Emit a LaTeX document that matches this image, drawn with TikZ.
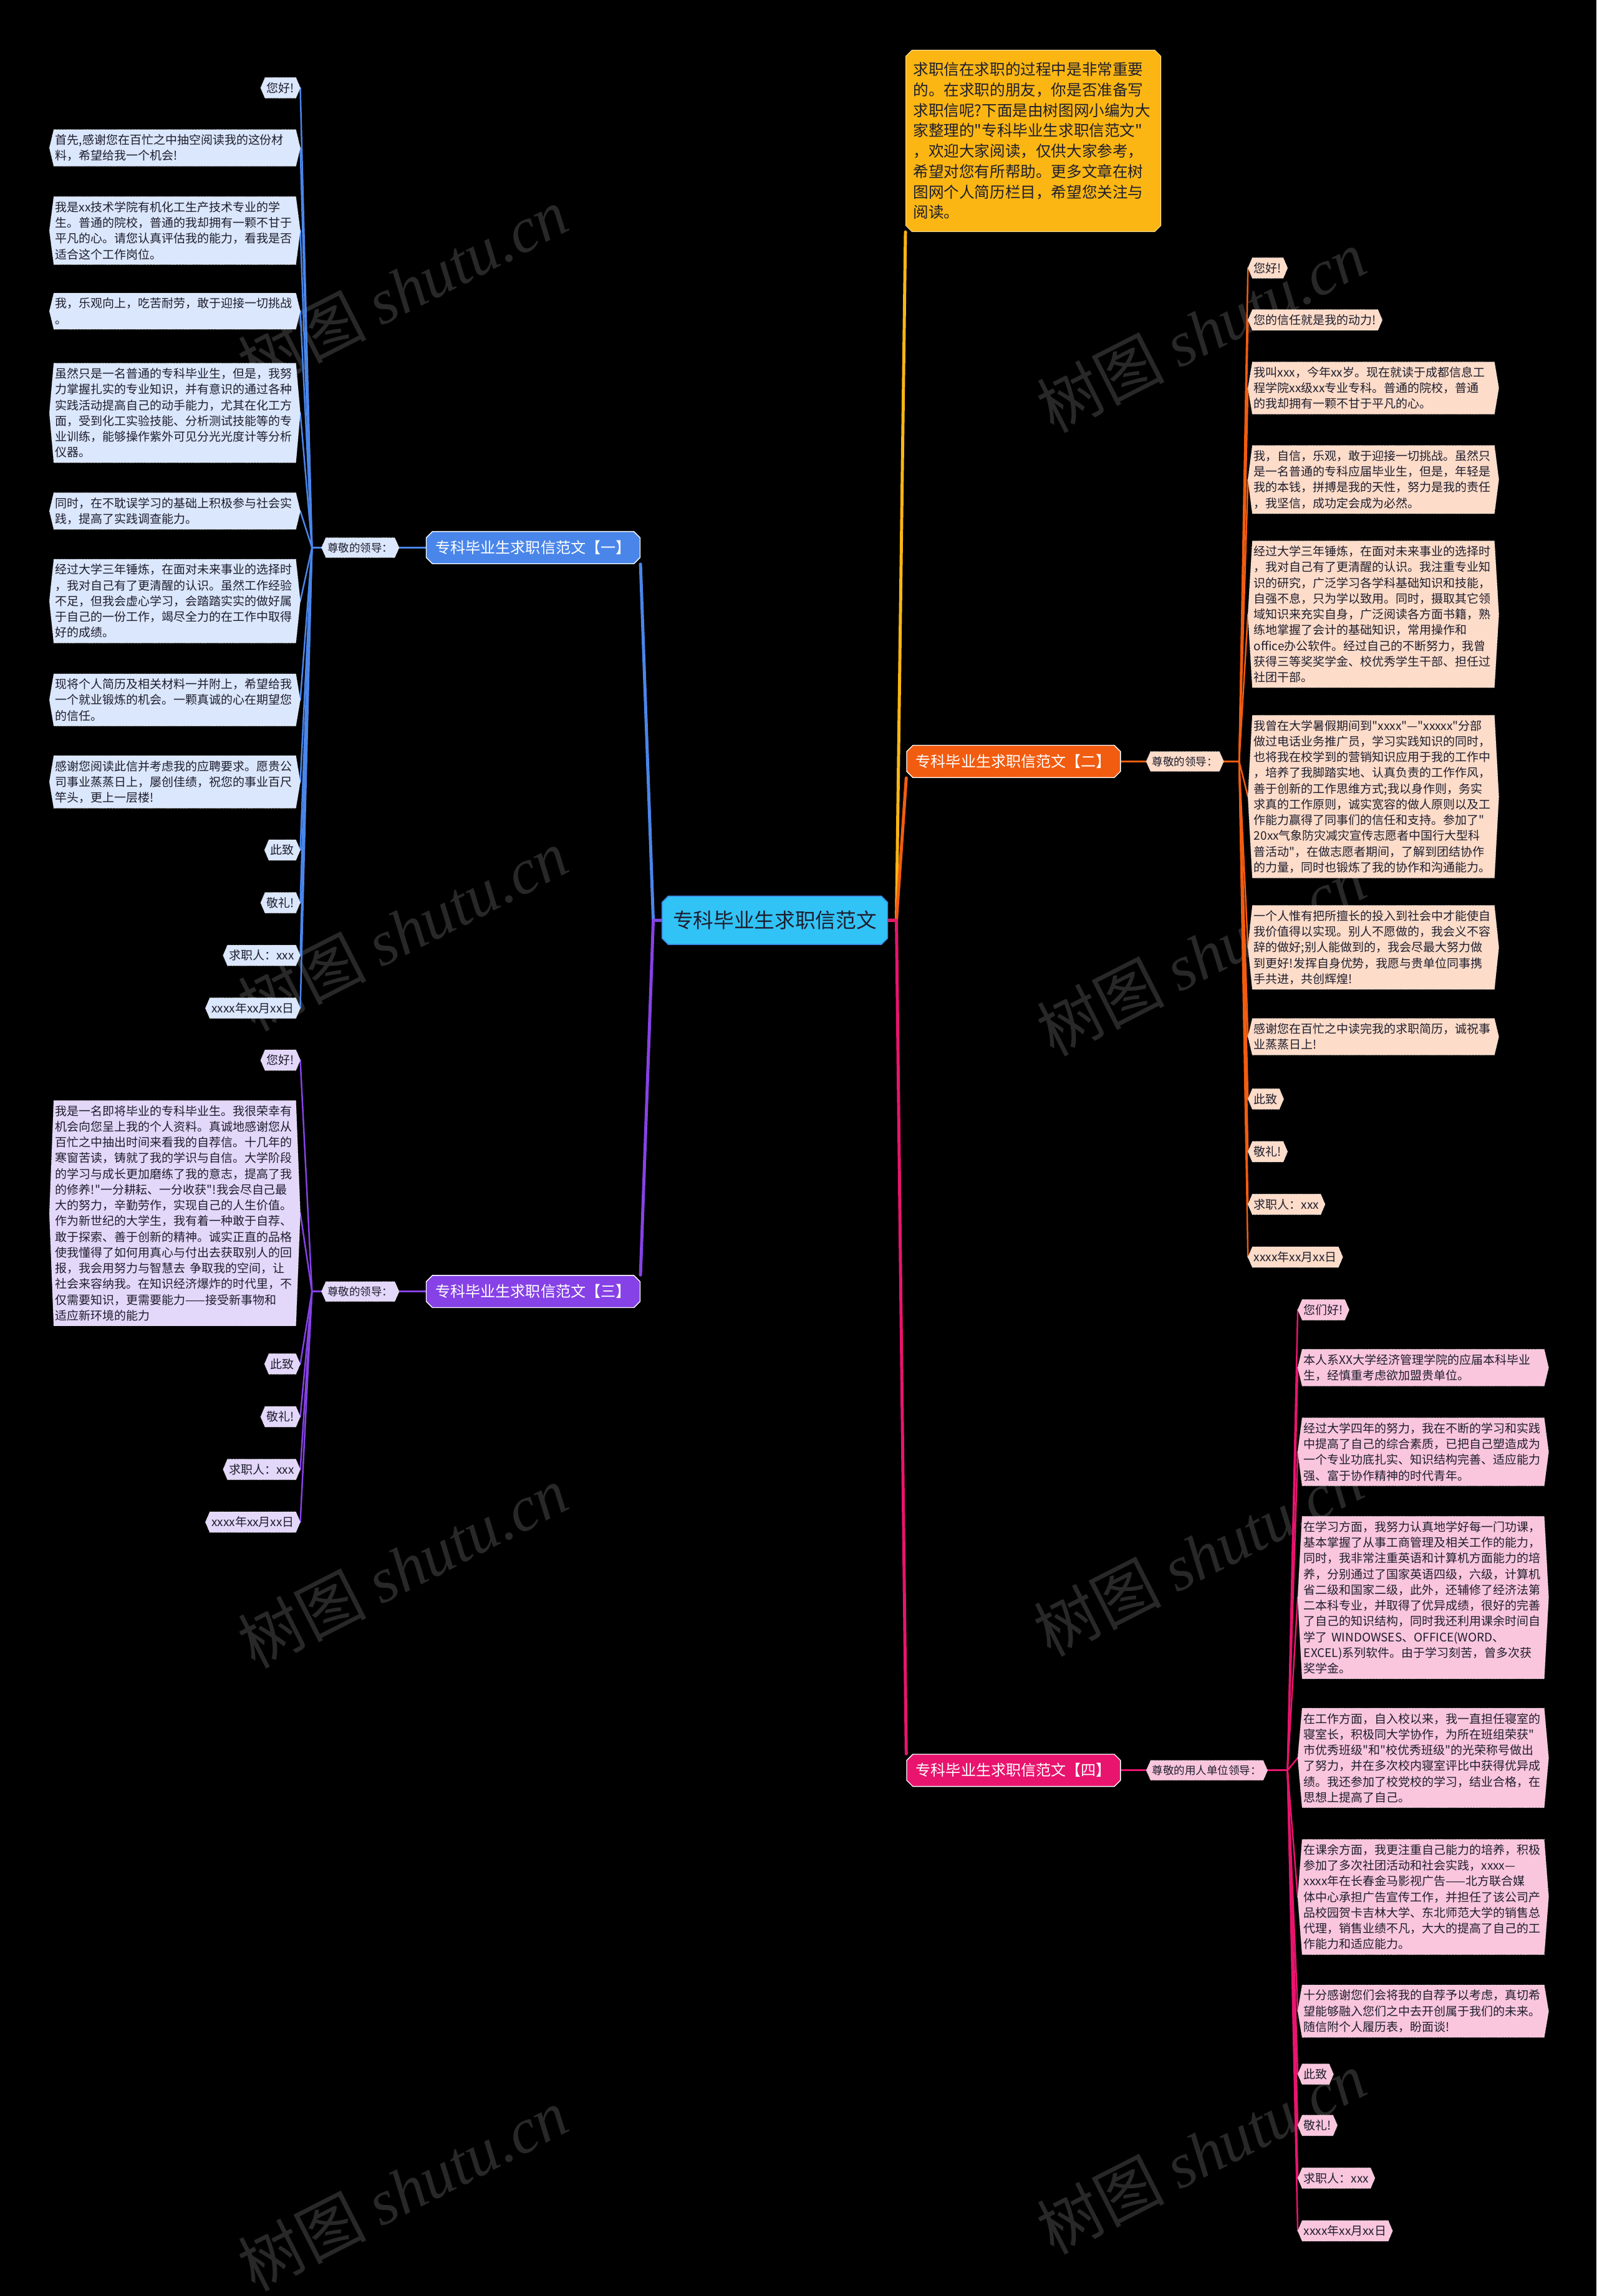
\documentclass[tikz,border=0pt]{standalone}
\usepackage{fontspec}
\setmainfont{Noto Sans CJK SC}[Ligatures=TeXOff]
\newfontfamily\wmlatin{Liberation Serif}
\usetikzlibrary{shapes.misc,backgrounds}

\definecolor{rootfill}{HTML}{31C3F6}
\definecolor{rootline}{HTML}{3A86E4}
\definecolor{introfill}{HTML}{FBB613}
\definecolor{bluemain}{HTML}{4A86EA}
\definecolor{bluelite}{HTML}{DBE7FC}
\definecolor{orangemain}{HTML}{F25C10}
\definecolor{orangelite}{HTML}{FDDCC9}
\definecolor{purplemain}{HTML}{8642E6}
\definecolor{purplelite}{HTML}{E4D8FA}
\definecolor{pinkmain}{HTML}{E9146E}
\definecolor{pinklite}{HTML}{FAC6DD}
\definecolor{leaftext}{HTML}{1E1E2E}
\definecolor{wmgray}{HTML}{282828}

\newcommand\hexbox[2]{%
  \filldraw[fill=#2,draw=white,densely dotted,line width=0.5pt]
    (#1.west) -- ([xshift=0.15cm]#1.north west) -- ([xshift=-0.15cm]#1.north east)
    -- (#1.east) -- ([xshift=-0.15cm]#1.south east) -- ([xshift=0.15cm]#1.south west) -- cycle}

\begin{document}
\begin{tikzpicture}[x=0.05cm,y=-0.05cm,
  leaf/.style={text=leaftext,align=left,inner xsep=0.2cm,inner ysep=4.5pt,
    font=\fontsize{11.5}{15.3}\selectfont},
  leafwide/.style={leaf,text width=8.15cm},
  greet/.style={leaf,font=\fontsize{10.6}{13}\selectfont},
  branch/.style={chamfered rectangle,chamfered rectangle xsep=3pt,chamfered rectangle ysep=3pt,
    draw=white,line width=0.8pt,text=white,minimum width=7.3cm,minimum height=1.1cm,
    inner xsep=2pt,font=\fontsize{14.6}{16}\selectfont},
  trunk/.style={line width=3pt,line join=round,line cap=round},
  twig/.style={line width=2pt,line cap=round},
  link/.style={line width=1.5pt,line cap=round},
  wmark/.style={text=wmgray,rotate=27,font=\fontsize{62}{62}\selectfont}]
\useasboundingbox (0,0) rectangle (1090,1568);

\node[chamfered rectangle,chamfered rectangle xsep=3pt,chamfered rectangle ysep=3pt,fill=rootfill,draw=rootline,line width=1pt,text=leaftext,minimum width=7.7cm,minimum height=1.65cm,inner xsep=3pt,font=\fontsize{19.8}{22}\selectfont] (root) at (529,628.5) {专科毕业生求职信范文};

\node[chamfered rectangle,chamfered rectangle xsep=3pt,chamfered rectangle ysep=3pt,fill=introfill,draw=white!60!introfill,line width=0.6pt,text=leaftext,align=left,text width=8.2cm,inner xsep=0.15cm,inner ysep=9pt,font=\fontsize{14.9}{19.8}\selectfont,anchor=north] (intro) at (705.5,34) {求职信在求职的过程中是非常重要\\的。在求职的朋友，你是否准备写\\求职信呢?下面是由树图网小编为大\\家整理的"专科毕业生求职信范文"\\，欢迎大家阅读，仅供大家参考，\\希望对您有所帮助。更多文章在树\\图网个人简历栏目，希望您关注与\\阅读。};

\node[branch,fill=bluemain] (m1) at (364,374) {专科毕业生求职信范文【一】};
\node[branch,fill=orangemain] (m2) at (692,520) {专科毕业生求职信范文【二】};
\node[branch,fill=purplemain] (m3) at (364,882) {专科毕业生求职信范文【三】};
\node[branch,fill=pinkmain] (m4) at (692,1209) {专科毕业生求职信范文【四】};

\node[greet] (g1) at (246,374) {尊敬的领导：};
\node[greet] (g2) at (809,520) {尊敬的领导：};
\node[greet] (g3) at (246,882) {尊敬的领导：};
\node[greet] (g4) at (824,1209) {尊敬的用人单位领导：};

\node[leaf,anchor=east] (a1) at (205,60) {您好!};
\node[leafwide,anchor=east] (a2) at (205,101) {首先,感谢您在百忙之中抽空阅读我的这份材\\料，希望给我一个机会!};
\node[leafwide,anchor=east] (a3) at (205,157.5) {我是xx技术学院有机化工生产技术专业的学\\生。普通的院校，普通的我却拥有一颗不甘于\\平凡的心。请您认真评估我的能力，看我是否\\适合这个工作岗位。};
\node[leafwide,anchor=east] (a4) at (205,212.5) {我，乐观向上，吃苦耐劳，敢于迎接一切挑战\\。};
\node[leafwide,anchor=east] (a5) at (205,282) {虽然只是一名普通的专科毕业生，但是，我努\\力掌握扎实的专业知识，并有意识的通过各种\\实践活动提高自己的动手能力，尤其在化工方\\面，受到化工实验技能、分析测试技能等的专\\业训练，能够操作紫外可见分光光度计等分析\\仪器。};
\node[leafwide,anchor=east] (a6) at (205,349) {同时，在不耽误学习的基础上积极参与社会实\\践，提高了实践调查能力。};
\node[leafwide,anchor=east] (a7) at (205,410.5) {经过大学三年锤炼，在面对未来事业的选择时\\，我对自己有了更清醒的认识。虽然工作经验\\不足，但我会虚心学习，会踏踏实实的做好属\\于自己的一份工作，竭尽全力的在工作中取得\\好的成绩。};
\node[leafwide,anchor=east] (a8) at (205,478) {现将个人简历及相关材料一并附上，希望给我\\一个就业锻炼的机会。一颗真诚的心在期望您\\的信任。};
\node[leafwide,anchor=east] (a9) at (205,534) {感谢您阅读此信并考虑我的应聘要求。愿贵公\\司事业蒸蒸日上，屡创佳绩，祝您的事业百尺\\竿头，更上一层楼!};
\node[leaf,anchor=east] (a10) at (205,580.5) {此致};
\node[leaf,anchor=east] (a11) at (205,616.5) {敬礼!};
\node[leaf,anchor=east] (a12) at (205,652.5) {求职人：xxx};
\node[leaf,anchor=east] (a13) at (205,688.5) {xxxx年xx月xx日};

\node[leaf,anchor=west] (b1) at (852,183) {您好!};
\node[leaf,anchor=west] (b2) at (852,218.5) {您的信任就是我的动力!};
\node[leafwide,anchor=west] (b3) at (852,265) {我叫xxx，今年xx岁。现在就读于成都信息工\\程学院xx级xx专业专科。普通的院校，普通\\的我却拥有一颗不甘于平凡的心。};
\node[leafwide,anchor=west] (b4) at (852,327.5) {我，自信，乐观，敢于迎接一切挑战。虽然只\\是一名普通的专科应届毕业生，但是，年轻是\\我的本钱，拼搏是我的天性，努力是我的责任\\，我坚信，成功定会成为必然。};
\node[leafwide,anchor=west] (b5) at (852,419.5) {经过大学三年锤炼，在面对未来事业的选择时\\，我对自己有了更清醒的认识。我注重专业知\\识的研究，广泛学习各学科基础知识和技能，\\自强不息，只为学以致用。同时，摄取其它领\\域知识来充实自身，广泛阅读各方面书籍，熟\\练地掌握了会计的基础知识，常用操作和\\office办公软件。经过自己的不断努力，我曾\\获得三等奖奖学金、校优秀学生干部、担任过\\社团干部。};
\node[leafwide,anchor=west] (b6) at (852,544) {我曾在大学暑假期间到"xxxx"—"xxxxx"分部\\做过电话业务推广员，学习实践知识的同时，\\也将我在校学到的营销知识应用于我的工作中\\，培养了我脚踏实地、认真负责的工作作风，\\善于创新的工作思维方式;我以身作则，务实\\求真的工作原则，诚实宽容的做人原则以及工\\作能力赢得了同事们的信任和支持。参加了"\\20xx气象防灾减灾宣传志愿者中国行大型科\\普活动"，在做志愿者期间，了解到团结协作\\的力量，同时也锻炼了我的协作和沟通能力。};
\node[leafwide,anchor=west] (b7) at (852,647) {一个人惟有把所擅长的投入到社会中才能使自\\我价值得以实现。别人不愿做的，我会义不容\\辞的做好;别人能做到的，我会尽最大努力做\\到更好!发挥自身优势，我愿与贵单位同事携\\手共进，共创辉煌!};
\node[leafwide,anchor=west] (b8) at (852,708) {感谢您在百忙之中读完我的求职简历，诚祝事\\业蒸蒸日上!};
\node[leaf,anchor=west] (b9) at (852,750.5) {此致};
\node[leaf,anchor=west] (b10) at (852,786.5) {敬礼!};
\node[leaf,anchor=west] (b11) at (852,822.5) {求职人：xxx};
\node[leaf,anchor=west] (b12) at (852,858.5) {xxxx年xx月xx日};

\node[leaf,anchor=east] (c1) at (205,724) {您好!};
\node[leafwide,anchor=east] (c2) at (205,828.5) {我是一名即将毕业的专科毕业生。我很荣幸有\\机会向您呈上我的个人资料。真诚地感谢您从\\百忙之中抽出时间来看我的自荐信。十几年的\\寒窗苦读，铸就了我的学识与自信。大学阶段\\的学习与成长更加磨练了我的意志，提高了我\\的修养!"一分耕耘、一分收获"!我会尽自己最\\大的努力，辛勤劳作，实现自己的人生价值。\\作为新世纪的大学生，我有着一种敢于自荐、\\敢于探索、善于创新的精神。诚实正直的品格\\使我懂得了如何用真心与付出去获取别人的回\\报，我会用努力与智慧去 争取我的空间，让\\社会来容纳我。在知识经济爆炸的时代里，不\\仅需要知识，更需要能力——接受新事物和\\适应新环境的能力};
\node[leaf,anchor=east] (c3) at (205,931.5) {此致};
\node[leaf,anchor=east] (c4) at (205,967.5) {敬礼!};
\node[leaf,anchor=east] (c5) at (205,1003.5) {求职人：xxx};
\node[leaf,anchor=east] (c6) at (205,1039.5) {xxxx年xx月xx日};

\node[leaf,anchor=west] (d1) at (886,894.5) {您们好!};
\node[leafwide,anchor=west] (d2) at (886,934) {本人系XX大学经济管理学院的应届本科毕业\\生，经慎重考虑欲加盟贵单位。};
\node[leafwide,anchor=west] (d3) at (886,991.5) {经过大学四年的努力，我在不断的学习和实践\\中提高了自己的综合素质，已把自己塑造成为\\一个专业功底扎实、知识结构完善、适应能力\\强、富于协作精神的时代青年。};
\node[leafwide,anchor=west] (d4) at (886,1091) {在学习方面，我努力认真地学好每一门功课，\\基本掌握了从事工商管理及相关工作的能力，\\同时，我非常注重英语和计算机方面能力的培\\养，分别通过了国家英语四级，六级，计算机\\省二级和国家二级，此外，还辅修了经济法第\\二本科专业，并取得了优异成绩，很好的完善\\了自己的知识结构，同时我还利用课余时间自\\学了 WINDOWSES、OFFICE(WORD、\\EXCEL)系列软件。由于学习刻苦，曾多次获\\奖学金。};
\node[leafwide,anchor=west] (d5) at (886,1200.5) {在工作方面，自入校以来，我一直担任寝室的\\寝室长，积极同大学协作，为所在班组荣获"\\市优秀班级"和"校优秀班级"的光荣称号做出\\了努力，并在多次校内寝室评比中获得优异成\\绩。我还参加了校党校的学习，结业合格，在\\思想上提高了自己。};
\node[leafwide,anchor=west] (d6) at (886,1295.5) {在课余方面，我更注重自己能力的培养，积极\\参加了多次社团活动和社会实践，xxxx—\\xxxx年在长春金马影视广告——北方联合媒\\体中心承担广告宣传工作，并担任了该公司产\\品校园贺卡吉林大学、东北师范大学的销售总\\代理，销售业绩不凡，大大的提高了自己的工\\作能力和适应能力。};
\node[leafwide,anchor=west] (d7) at (886,1373.5) {十分感谢您们会将我的自荐予以考虑，真切希\\望能够融入您们之中去开创属于我们的未来。\\随信附个人履历表，盼面谈!};
\node[leaf,anchor=west] (d8) at (886,1416.5) {此致};
\node[leaf,anchor=west] (d9) at (886,1451.5) {敬礼!};
\node[leaf,anchor=west] (d10) at (886,1487.5) {求职人：xxx};
\node[leaf,anchor=west] (d11) at (886,1523.5) {xxxx年xx月xx日};

\coordinate (jL) at (446,628.5);
\coordinate (jR) at (612,628.5);
\coordinate (f1) at (213,374);
\coordinate (f2) at (846,520);
\coordinate (f3) at (213,882);
\coordinate (f4) at (879,1209);

\begin{scope}[on background layer]
\fill[black] (0,0) rectangle (1090,1568);
\foreach \x/\y [count=\k] in {275/197,275/635,275/1070,275/1495,820/226,820/652,818/1062,820/1470}
  \node[wmark] (w\k) at (\x,\y) {树图 {\wmlatin\itshape shutu.cn}};

\draw[trunk,introfill] (root.east) -- (jR) -- (intro.west |- intro.south);
\draw[trunk,orangemain] (root.east) -- (jR) -- (m2.west |- m2.south);
\draw[trunk,pinkmain] (root.east) -- (jR) -- (m4.west |- m4.north);
\draw[trunk,bluemain] (root.west) -- (jL) -- (m1.east |- m1.south);
\draw[trunk,purplemain] (root.west) -- (jL) -- (m3.east |- m3.north);

\draw[twig,bluemain] (m1.west) -- (g1.east);
\draw[twig,bluemain] (g1.west) -- (f1);
\foreach \i in {1,...,13} \draw[link,bluemain] (f1) -- (a\i.east);
\draw[twig,orangemain] (m2.east) -- (g2.west);
\draw[twig,orangemain] (g2.east) -- (f2);
\foreach \i in {1,...,12} \draw[link,orangemain] (f2) -- (b\i.west);
\draw[twig,purplemain] (m3.west) -- (g3.east);
\draw[twig,purplemain] (g3.west) -- (f3);
\foreach \i in {1,...,6} \draw[link,purplemain] (f3) -- (c\i.east);
\draw[twig,pinkmain] (m4.east) -- (g4.west);
\draw[twig,pinkmain] (g4.east) -- (f4);
\foreach \i in {1,...,11} \draw[link,pinkmain] (f4) -- (d\i.west);

\hexbox{g1}{bluelite};
\hexbox{g2}{orangelite};
\hexbox{g3}{purplelite};
\hexbox{g4}{pinklite};
\foreach \i in {1,...,13} \hexbox{a\i}{bluelite};
\foreach \i in {1,...,12} \hexbox{b\i}{orangelite};
\foreach \i in {1,...,6} \hexbox{c\i}{purplelite};
\foreach \i in {1,...,11} \hexbox{d\i}{pinklite};
\end{scope}
\end{tikzpicture}
\end{document}
